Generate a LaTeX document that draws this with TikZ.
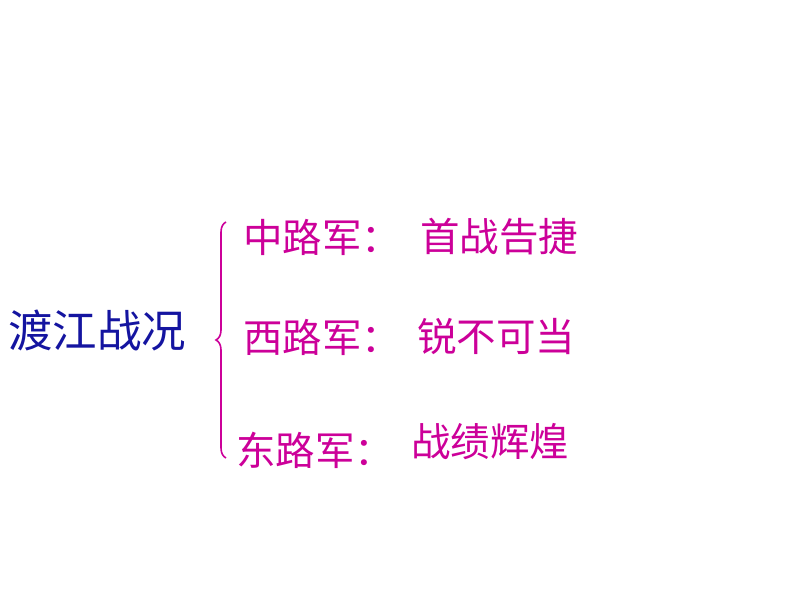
\documentclass[tikz,border=0pt]{standalone}
\usepackage{fontspec}
\newfontfamily\cjk{Noto Sans CJK SC}
\usetikzlibrary{decorations.pathreplacing}
\definecolor{mag}{RGB}{204,0,153}
\definecolor{navy}{RGB}{20,20,160}
\tikzset{lbl/.style={font=\cjk\fontsize{39.5}{41}\selectfont,text=mag,anchor=west,inner sep=0pt},
main/.style={font=\cjk\fontsize{44.5}{46}\selectfont,text=navy,anchor=west,inner sep=0pt}}
\begin{document}
\begin{tikzpicture}[x=1pt,y=-1pt]
\useasboundingbox (0,0) rectangle (794,596);
\node[main] (t) at (8,331) {渡江战况};
\coordinate (b1) at (226,222);
\coordinate (b2) at (226,458);
\draw[mag,line width=1.6pt,decorate,decoration={brace,amplitude=10pt,mirror,aspect=0.5}] (b1) -- (b2);
\node[lbl] (a1) at (243,237) {中路军：};
\node[lbl] (c1) at (420,237) {首战告捷};
\node[lbl] (a2) at (243,337) {西路军：};
\node[lbl] (c2) at (417,337) {锐不可当};
\node[lbl] (a3) at (236,450) {东路军：};
\node[lbl] (c3) at (411,442) {战绩辉煌};
\end{tikzpicture}
\end{document}
